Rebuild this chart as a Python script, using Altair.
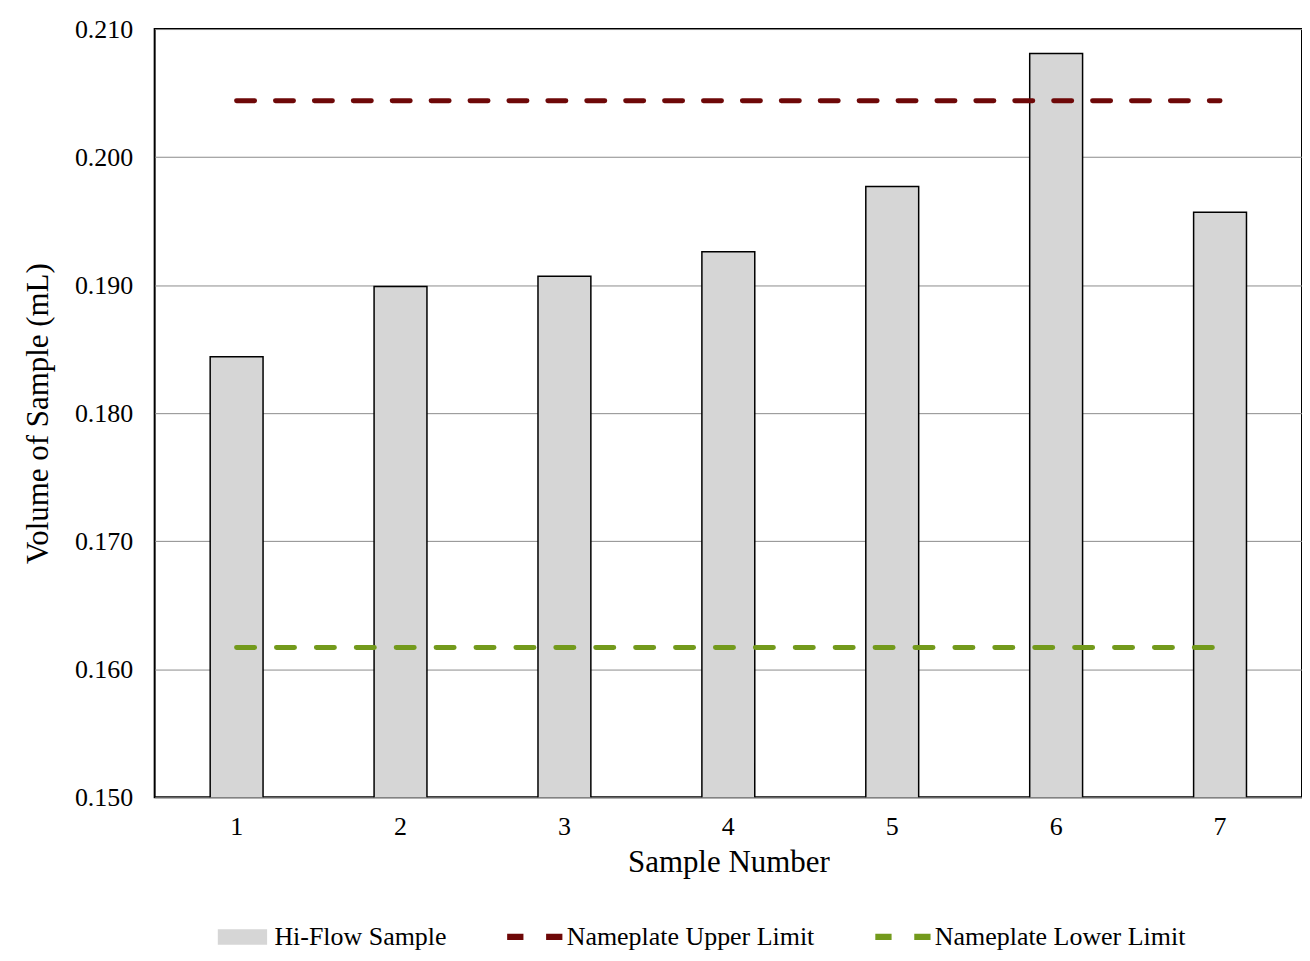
import altair as alt
import pandas as pd

samples = ["1", "2", "3", "4", "5", "6", "7"]
volumes = [0.1844, 0.1899, 0.1907, 0.1926, 0.1977, 0.2081, 0.1957]
upper_limit = [0.2044] * 7
lower_limit = [0.1617] * 7
series_names = ["Hi-Flow Sample", "Nameplate Upper Limit", "Nameplate Lower Limit"]
series_colors = ["#d6d6d6", "#6e0808", "#739a1c"]
y_ticks = [0.150, 0.160, 0.170, 0.180, 0.190, 0.200, 0.210]

FONT = "Liberation Serif"

bars_df = pd.DataFrame({"sample": samples, "value": volumes, "series": series_names[0]})
upper_df = pd.DataFrame({"sample": samples, "value": upper_limit, "series": series_names[1]})
lower_df = pd.DataFrame({"sample": samples, "value": lower_limit, "series": series_names[2]})
legend_df = pd.DataFrame({"series": series_names})

rect_path = "M-0.89,-0.26H0.89V0.26H-0.89Z"
dash_path = "M-1,-0.09H-0.45V0.09H-1Z M0.45,-0.09H1V0.09H0.45Z"

color_scale = alt.Scale(domain=series_names, range=series_colors)
shape_scale = alt.Scale(domain=series_names, range=[rect_path, dash_path, dash_path])

x_enc = alt.X("sample:N", sort=samples,
              axis=alt.Axis(title="Sample Number", labelAngle=0, ticks=False, domain=False,
                            grid=False, labelPadding=16, titlePadding=8))
y_enc = alt.Y("value:Q", scale=alt.Scale(domain=[0.150, 0.210], nice=False, zero=False),
              axis=alt.Axis(title="Volume of Sample (mL)", values=y_ticks, format=".3f",
                            ticks=False, domain=False, grid=True, gridColor="#8c8c8c",
                            gridWidth=1, labelPadding=22, titlePadding=20))

bars = alt.Chart(bars_df).mark_bar(size=53, stroke="black", strokeWidth=1.5, clip=True).encode(
    x=x_enc, y=y_enc,
    color=alt.Color("series:N", scale=color_scale),
)

upper = alt.Chart(upper_df).mark_line(strokeWidth=5, strokeDash=[18, 21], strokeCap="round").encode(
    x=x_enc, y=y_enc,
    color=alt.Color("series:N", scale=color_scale),
)

lower = alt.Chart(lower_df).mark_line(strokeWidth=5, strokeDash=[18, 22], strokeCap="round").encode(
    x=x_enc, y=y_enc,
    color=alt.Color("series:N", scale=color_scale),
)

leg = alt.Legend(title=None, orient="none", legendX=60, legendY=882,
                 direction="horizontal", symbolSize=2900,
                 labelFont=FONT, labelFontSize=26, labelColor="black", labelLimit=500,
                 labelOffset=4, columnPadding=58, symbolOpacity=1)

legend_layer = alt.Chart(legend_df).mark_point(filled=True, size=0, opacity=1,
                                               stroke="black", strokeWidth=1).encode(
    color=alt.Color("series:N", scale=color_scale, legend=leg),
    shape=alt.Shape("series:N", scale=shape_scale, legend=leg),
)

chart = alt.layer(bars, upper, lower, legend_layer).properties(
    width=1150, height=770,
    autosize=alt.AutoSizeParams(type="none"),
    padding={"left": 147, "top": 20, "right": 0, "bottom": 160},
    background="white",
).configure_view(
    stroke="black", strokeWidth=2
).configure_axis(
    labelFont=FONT, labelFontSize=26, labelColor="black",
    titleFont=FONT, titleFontSize=31, titleFontWeight="normal", titleColor="black",
)

chart.save("out.html", embed_options={"renderer": "svg", "actions": False})
